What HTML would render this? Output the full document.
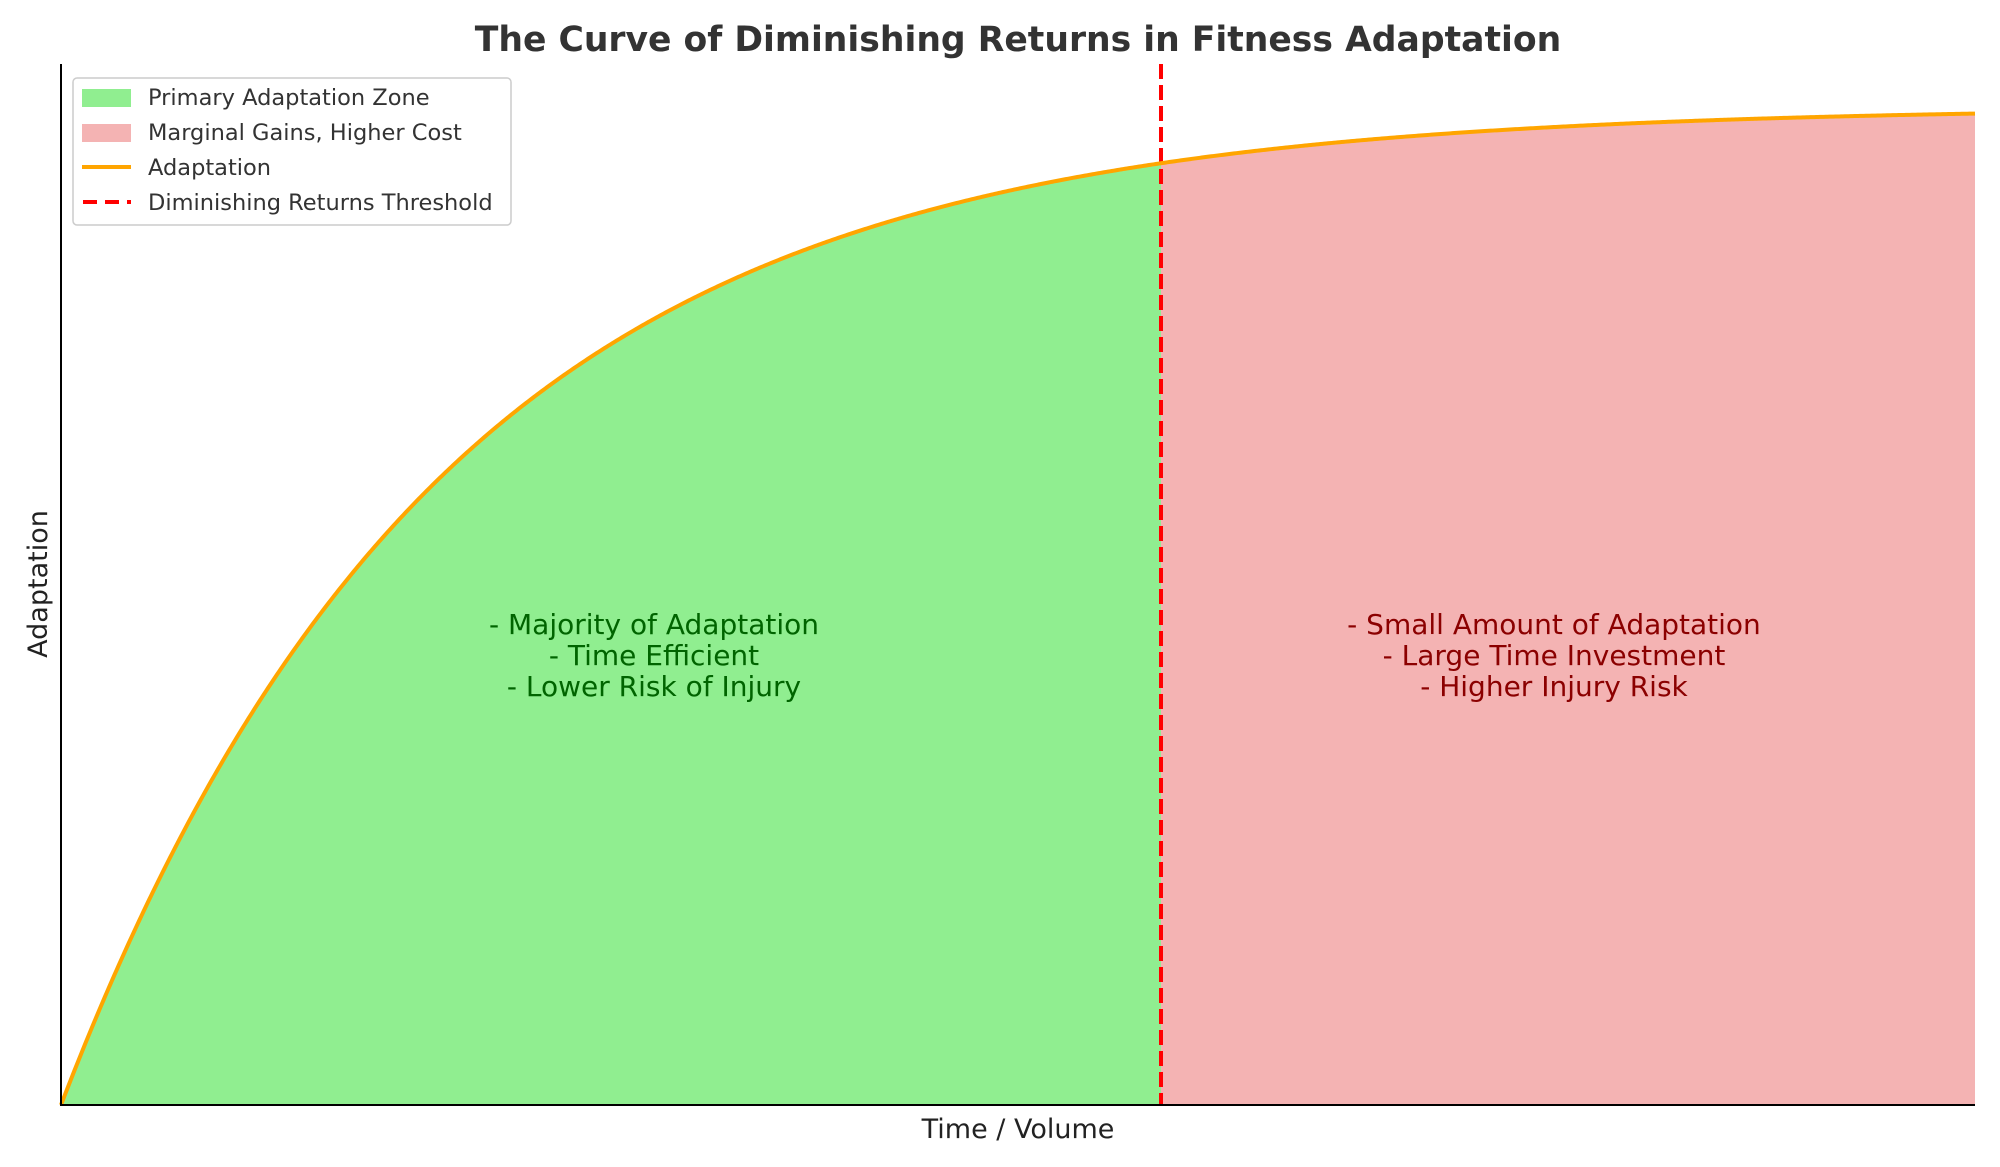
<!DOCTYPE html>
<html><head><meta charset="utf-8"><style>
html,body{margin:0;padding:0;background:#fff;}
svg{display:block;font-family:"DejaVu Sans","Liberation Sans",sans-serif;}
</style></head><body>
<svg id="s" width="2000" height="1167" viewBox="0 0 2000 1167" xmlns="http://www.w3.org/2000/svg">
<rect width="2000" height="1167" fill="#fff"/>
<path id="g" fill="#90ee90" d=""/>
<path id="r" fill="#f4b3b3" d=""/>
<line x1="1161" y1="64" x2="1161" y2="1105" stroke="#ff0000" stroke-width="4" stroke-dasharray="15,6"/>
<path id="c" fill="none" stroke="#ffa500" stroke-width="4" d=""/>
<line x1="61" y1="64" x2="61" y2="1106" stroke="#000" stroke-width="2"/>
<line x1="60" y1="1105" x2="1975" y2="1105" stroke="#000" stroke-width="2"/>
<text x="1018" y="51" text-anchor="middle" font-size="34.6" font-weight="bold" fill="#333">The Curve of Diminishing Returns in Fitness Adaptation</text>
<text x="1018" y="1138" text-anchor="middle" font-size="27" fill="#222">Time / Volume</text>
<text transform="translate(47,584) rotate(-90)" text-anchor="middle" font-size="27" fill="#222">Adaptation</text>
<g font-size="28" fill="#006400" text-anchor="middle">
<text x="654" y="634">- Majority of Adaptation</text>
<text x="654" y="665">- Time Efficient</text>
<text x="654" y="696">- Lower Risk of Injury</text>
</g>
<g font-size="28" fill="#8b0000" text-anchor="middle">
<text x="1554" y="634">- Small Amount of Adaptation</text>
<text x="1554" y="665">- Large Time Investment</text>
<text x="1554" y="696">- Higher Injury Risk</text>
</g>
<rect x="73" y="78" width="438" height="147" rx="4" fill="#fff" fill-opacity="0.85" stroke="#ccc" stroke-width="1.5"/>
<rect x="82" y="89" width="49" height="18" fill="#90ee90"/>
<rect x="82" y="124" width="49" height="18" fill="#f4b3b3"/>
<line x1="82" y1="167" x2="131" y2="167" stroke="#ffa500" stroke-width="4"/>
<line x1="83" y1="202" x2="131" y2="202" stroke="#ff0000" stroke-width="4" stroke-dasharray="14,8"/>
<g font-size="22.5" fill="#333">
<text x="148" y="105">Primary Adaptation Zone</text>
<text x="148" y="140">Marginal Gains, Higher Cost</text>
<text x="148" y="175">Adaptation</text>
<text x="148" y="210">Diminishing Returns Threshold</text>
</g>
</svg>
<script>
(function(){
var L=61,R=1975,T=64,B=1105,ymax=1.05*(1-Math.exp(-5)),XC=1161;
function X(t){return L+(R-L)*t/10;}
function Y(v){return B-(B-T)*v/ymax;}
var tc=(XC-L)/(R-L)*10;
var pts=[],g=[],r=[];
for(var i=0;i<=1000;i++){var t=i/100;var v=1-Math.exp(-0.5*t);var p=X(t).toFixed(2)+","+Y(v).toFixed(2);pts.push(p);
if(t<=tc)g.push(p); else r.push(p);}
var vc=1-Math.exp(-0.5*tc);
g.push(XC+","+Y(vc).toFixed(2));
r.unshift(XC+","+Y(vc).toFixed(2));
document.getElementById("c").setAttribute("d","M"+pts.join(" L"));
document.getElementById("g").setAttribute("d","M"+L+","+B+" L"+g.join(" L")+" L"+XC+","+B+" Z");
document.getElementById("r").setAttribute("d","M"+XC+","+B+" L"+r.join(" L")+" L"+R+","+B+" Z");
})();
</script>
</body></html>
